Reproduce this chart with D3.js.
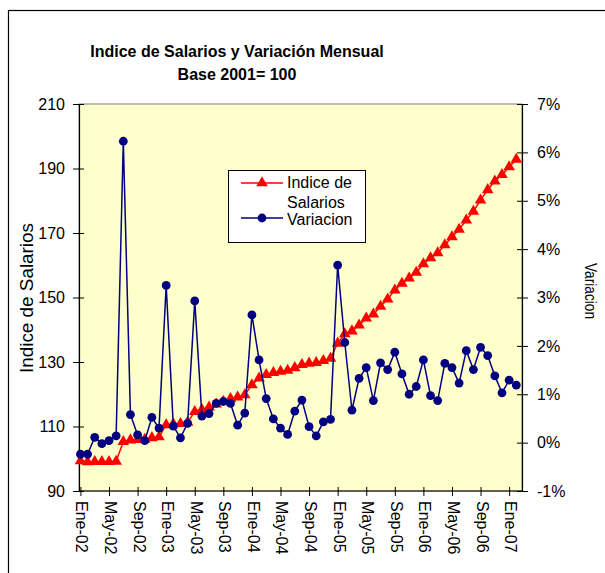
<!DOCTYPE html>
<html>
<head>
<meta charset="utf-8">
<script src="https://cdn.jsdelivr.net/npm/d3@7"></script>
<style>
  body { margin: 0; background: #fff; }
  text { font-family: "Liberation Sans", Arial, sans-serif; fill: #000; }
</style>
</head>
<body>
<div id="chart"></div>
<script>
// months, Ene-02 .. Feb-07
var months = ["Ene-02","Feb-02","Mar-02","Abr-02","May-02","Jun-02","Jul-02","Ago-02","Sep-02","Oct-02","Nov-02","Dic-02",
  "Ene-03","Feb-03","Mar-03","Abr-03","May-03","Jun-03","Jul-03","Ago-03","Sep-03","Oct-03","Nov-03","Dic-03",
  "Ene-04","Feb-04","Mar-04","Abr-04","May-04","Jun-04","Jul-04","Ago-04","Sep-04","Oct-04","Nov-04","Dic-04",
  "Ene-05","Feb-05","Mar-05","Abr-05","May-05","Jun-05","Jul-05","Ago-05","Sep-05","Oct-05","Nov-05","Dic-05",
  "Ene-06","Feb-06","Mar-06","Abr-06","May-06","Jun-06","Jul-06","Ago-06","Sep-06","Oct-06","Nov-06","Dic-06",
  "Ene-07","Feb-07"];

var indice = [99.3, 99.0, 99.1, 99.1, 99.1, 99.2, 105.3, 105.8, 105.9, 106.0, 106.5, 106.8,
  110.5, 110.8, 110.9, 111.3, 114.6, 115.2, 116.0, 116.9, 117.8, 118.6, 119.1, 119.8,
  122.9, 125.0, 126.1, 126.7, 127.1, 127.4, 128.2, 129.2, 129.6, 129.8, 130.4, 131.1,
  135.8, 138.7, 139.6, 141.4, 143.6, 144.8, 147.2, 149.5, 152.3, 154.4, 156.0, 157.8,
  160.4, 162.3, 163.8, 166.3, 168.8, 171.1, 174.0, 176.7, 180.2, 183.4, 186.1, 188.1,
  190.5, 192.8];

// monthly variation in %
var variacion = [-0.24, -0.24, 0.11, -0.02, 0.04, 0.14, 6.23, 0.58, 0.16, 0.04, 0.52, 0.30,
  3.25, 0.34, 0.10, 0.40, 2.93, 0.55, 0.60, 0.81, 0.85, 0.81, 0.36, 0.61,
  2.64, 1.71, 0.91, 0.49, 0.30, 0.17, 0.65, 0.88, 0.33, 0.14, 0.43, 0.48,
  3.67, 2.07, 0.67, 1.33, 1.55, 0.87, 1.65, 1.51, 1.87, 1.42, 1.00, 1.16,
  1.71, 0.97, 0.87, 1.64, 1.55, 1.23, 1.90, 1.51, 1.97, 1.80, 1.38, 1.03,
  1.29, 1.19];

var tickLabels = ["Ene-02","May-02","Sep-02","Ene-03","May-03","Sep-03","Ene-04","May-04",
  "Sep-04","Ene-05","May-05","Sep-05","Ene-06","May-06","Sep-06","Ene-07"];
var leftTicks = [90, 110, 130, 150, 170, 190, 210];
var rightTicks = [-1, 0, 1, 2, 3, 4, 5, 6, 7];

var W = 605, H = 573;
var plot = {left: 79, right: 522, top: 104, bottom: 491};

var svg = d3.select("#chart").append("svg")
    .attr("width", W)
    .attr("height", H);

// chart frame
svg.append("rect")
    .attr("x", 8.5).attr("y", 10.5)
    .attr("width", 700).attr("height", 700)
    .attr("fill", "#fff")
    .attr("stroke", "#000")
    .attr("stroke-width", 1.2);

var x = d3.scaleLinear().domain([-0.2, 61.8]).range([plot.left, plot.right]);
var y = d3.scaleLinear().domain([90, 210]).range([plot.bottom, plot.top]);
var y2 = d3.scaleLinear().domain([-1, 7]).range([plot.bottom, plot.top]);

// plot area
svg.append("rect")
    .attr("x", plot.left).attr("y", plot.top)
    .attr("width", plot.right - plot.left)
    .attr("height", plot.bottom - plot.top)
    .attr("fill", "#FFFFCC")
    .attr("stroke", "#808080")
    .attr("stroke-width", 1);

// left axis
var yAxis = svg.append("g")
    .attr("transform", "translate(" + plot.left + ",0)")
    .call(d3.axisLeft(y).tickValues(leftTicks).tickSize(6).tickPadding(8));
yAxis.selectAll(".tick line").attr("x2", -6).attr("x1", 5);
yAxis.selectAll("text").style("font-size", "16px");

// right axis
var y2Axis = svg.append("g")
    .attr("transform", "translate(" + plot.right + ",0)")
    .call(d3.axisRight(y2).tickValues(rightTicks).tickSize(6).tickPadding(9)
      .tickFormat(function(d) { return (d < 0 ? "-" + Math.abs(d) : d) + "%"; }));
y2Axis.selectAll(".tick line").attr("x1", -5).attr("x2", 6);
y2Axis.selectAll("text").style("font-size", "16px");

// bottom axis
var xAxis = svg.append("g")
    .attr("transform", "translate(0," + plot.bottom + ")")
    .call(d3.axisBottom(x)
      .tickValues(tickLabels.map(function(t) { return months.indexOf(t); }))
      .tickSize(5)
      .tickFormat(function(i) { return months[i]; }));
xAxis.selectAll(".tick line").attr("y1", -4).attr("y2", 5);
xAxis.select(".domain").attr("d", "M" + plot.left + ",0H" + plot.right);
xAxis.selectAll("text")
    .style("font-size", "16px")
    .attr("text-anchor", "start")
    .attr("dy", null)
    .attr("y", 0)
    .attr("dominant-baseline", "central")
    .attr("transform", "translate(1,10) rotate(90)");

svg.selectAll(".domain").attr("stroke", "#000").attr("stroke-width", 1.2);
svg.selectAll(".tick line").attr("stroke", "#000");

// series: Indice de Salarios
svg.append("path")
    .datum(indice)
    .attr("fill", "none")
    .attr("stroke", "#FF0000")
    .attr("stroke-width", 1.5)
    .attr("d", d3.line().x(function(d, i) { return x(i); }).y(function(d) { return y(d); }));

var tri = d3.symbol().type(d3.symbolTriangle).size(58);
svg.selectAll(".tri")
    .data(indice)
    .enter().append("path")
    .attr("class", "tri")
    .attr("d", tri)
    .attr("fill", "#FF0000")
    .attr("transform", function(d, i) { return "translate(" + x(i) + "," + y(d) + ")"; });

// series: Variacion
svg.append("path")
    .datum(variacion)
    .attr("fill", "none")
    .attr("stroke", "#000080")
    .attr("stroke-width", 1.5)
    .attr("d", d3.line().x(function(d, i) { return x(i); }).y(function(d) { return y2(d); }));

svg.selectAll(".dot")
    .data(variacion)
    .enter().append("circle")
    .attr("class", "dot")
    .attr("cx", function(d, i) { return x(i); })
    .attr("cy", function(d) { return y2(d); })
    .attr("r", 4.4)
    .attr("fill", "#000080");

// titles
svg.append("text")
    .attr("x", 237).attr("y", 57)
    .attr("text-anchor", "middle")
    .style("font-size", "16px").style("font-weight", "bold")
    .text("Indice de Salarios y Variación Mensual");
svg.append("text")
    .attr("x", 237).attr("y", 80)
    .attr("text-anchor", "middle")
    .style("font-size", "16px").style("font-weight", "bold")
    .text("Base 2001= 100");

svg.append("text")
    .attr("transform", "translate(33,298) rotate(-90)")
    .attr("text-anchor", "middle")
    .attr("textLength", 150)
    .attr("lengthAdjust", "spacingAndGlyphs")
    .style("font-size", "18px")
    .text("Indice de Salarios");

svg.append("text")
    .attr("transform", "translate(585,291) rotate(90)")
    .attr("text-anchor", "middle")
    .attr("textLength", 56)
    .attr("lengthAdjust", "spacingAndGlyphs")
    .style("font-size", "17px")
    .text("Variacion");

// legend
var legend = svg.append("g");
legend.append("rect")
    .attr("x", 228.5).attr("y", 170.5)
    .attr("width", 137).attr("height", 72)
    .attr("fill", "#fff")
    .attr("stroke", "#000")
    .attr("stroke-width", 1);
legend.append("line")
    .attr("x1", 241).attr("x2", 283).attr("y1", 183).attr("y2", 183)
    .attr("stroke", "#FF0000").attr("stroke-width", 1.5);
legend.append("path")
    .attr("d", tri)
    .attr("fill", "#FF0000")
    .attr("transform", "translate(262,183)");
legend.append("line")
    .attr("x1", 241).attr("x2", 283).attr("y1", 218).attr("y2", 218)
    .attr("stroke", "#000080").attr("stroke-width", 1.5);
legend.append("circle")
    .attr("cx", 262).attr("cy", 218).attr("r", 4.4)
    .attr("fill", "#000080");
legend.append("text").attr("x", 287).attr("y", 188).style("font-size", "16px").text("Indice de");
legend.append("text").attr("x", 287).attr("y", 208).style("font-size", "16px").text("Salarios");
legend.append("text").attr("x", 287).attr("y", 225).style("font-size", "16px").text("Variacion");
</script>
</body>
</html>
